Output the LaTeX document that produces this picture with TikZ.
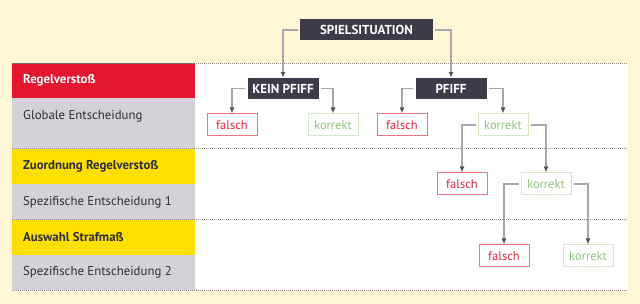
\documentclass[tikz,border=0pt]{standalone}
\usepackage{fontspec}
\setmainfont{PT Sans}
\usetikzlibrary{arrows.meta}
\definecolor{bgy}{HTML}{FFF6D6}
\definecolor{darkbox}{HTML}{3D3B47}
\definecolor{redrow}{HTML}{E3172D}
\definecolor{yelrow}{HTML}{FFDF00}
\definecolor{grayrow}{HTML}{D4D2D8}
\definecolor{txtdark}{HTML}{2E2D38}
\definecolor{linegray}{HTML}{A6A6AE}
\definecolor{tipgray}{HTML}{55545F}
\definecolor{falred}{HTML}{E4233C}
\definecolor{falborder}{HTML}{EA7482}
\definecolor{kortxt}{HTML}{8DC47A}
\definecolor{korborder}{HTML}{D3E9C8}
\definecolor{dotgray}{HTML}{8A8A92}
\tikzset{
  darknode/.style={fill=darkbox, text=white, font=\bfseries\fontsize{13}{15}\selectfont, inner sep=0pt, minimum height=21pt},
  falnode/.style={draw=falborder, line width=1pt, fill=white, text=falred, font=\fontsize{12.5}{15}\selectfont, inner sep=0pt, minimum width=50pt, minimum height=22pt},
  kornode/.style={draw=korborder, line width=1pt, fill=white, text=kortxt, font=\fontsize{12.5}{15}\selectfont, inner sep=0pt, minimum width=50pt, minimum height=22pt},
  conn/.style={draw=linegray, line width=1.1pt, shorten <=2pt, -{Latex[length=6pt,width=5pt,color=tipgray]}},
  rowlabel/.style={anchor=west, inner sep=0pt, font=\fontsize{12.8}{15}\selectfont, text=txtdark},
  rowhead/.style={anchor=west, inner sep=0pt, font=\bfseries\fontsize{12.8}{15}\selectfont},
  dotline/.style={draw=dotgray, line width=0.8pt, dash pattern=on 1pt off 1pt}
}
\begin{document}
\begin{tikzpicture}[x=1pt,y=-1pt]
\useasboundingbox (0,0) rectangle (640,304);
\fill[bgy] (0,0) rectangle (640,304);
% white panel
\fill[white] (195,63) rectangle (628,290);
% left column rows
\fill[redrow] (12,63) rectangle (195,98);
\fill[grayrow] (12,98) rectangle (195,148);
\fill[yelrow] (12,148) rectangle (195,184);
\fill[grayrow] (12,184) rectangle (195,219);
\fill[yelrow] (12,219) rectangle (195,255);
\fill[grayrow] (12,255) rectangle (195,290);
% dotted separators
\draw[dotline] (12,63) -- (628,63);
\draw[dotline] (12,148) -- (628,148);
\draw[dotline] (12,219) -- (628,219);
\draw[dotline] (12,290) -- (628,290);
% row labels
\node[rowhead, text=white] (l1) at (23,80) {Regelversto\ss};
\node[rowlabel] (l2) at (23,116) {Globale Entscheidung};
\node[rowhead, text=txtdark] (l3) at (23,166) {Zuordnung Regelversto\ss};
\node[rowlabel] (l4) at (23,202) {Spezifische Entscheidung 1};
\node[rowhead, text=txtdark] (l5) at (23,237) {Auswahl Strafma\ss};
\node[rowlabel] (l6) at (23,272) {Spezifische Entscheidung 2};
% tree nodes
\node[darknode, minimum width=133pt] (spiel) at (366.5,30) {SPIELSITUATION};
\node[darknode, minimum width=71pt] (kein) at (283,88.5) {KEIN PFIFF};
\node[darknode, minimum width=71pt] (pfiff) at (451,88.5) {PFIFF};
\node[falnode] (f1) at (232,125) {falsch};
\node[kornode] (k1) at (333,125) {korrekt};
\node[falnode] (f2) at (402,125) {falsch};
\node[kornode] (k2) at (503,125) {korrekt};
\node[falnode] (f3) at (462,184) {falsch};
\node[kornode] (k3) at (546,184) {korrekt};
\node[falnode] (f4) at (504,256) {falsch};
\node[kornode] (k4) at (588,256) {korrekt};
% connectors
\draw[conn] (spiel.west) -| (kein.north);
\draw[conn] (spiel.east) -| (pfiff.north);
\draw[conn] (kein.west) -| (f1.north);
\draw[conn] (kein.east) -| (k1.north);
\draw[conn] (pfiff.west) -| (f2.north);
\draw[conn] (pfiff.east) -| (k2.north);
\draw[conn] (k2.west) -| (f3.north);
\draw[conn] (k2.east) -| (k3.north);
\draw[conn] (k3.west) -| (f4.north);
\draw[conn] (k3.east) -| (k4.north);
\end{tikzpicture}
\end{document}
